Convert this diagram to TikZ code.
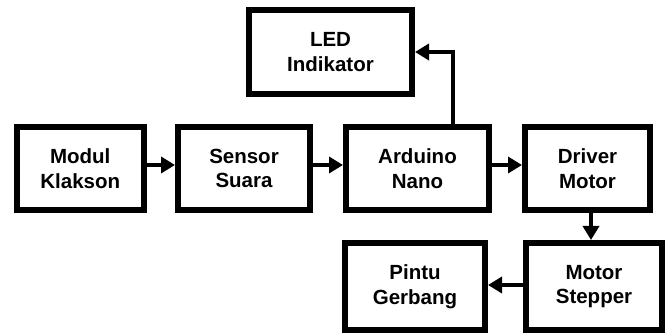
\documentclass[tikz,border=0pt]{standalone}
\usepackage{fontspec}
\setmainfont{Liberation Sans}
\usetikzlibrary{arrows.meta}
\begin{document}
\begin{tikzpicture}[x=1pt,y=-1pt,
  blk/.style={draw,line width=6pt,align=center,inner sep=0pt,
    font=\fontsize{20.5}{24.5}\selectfont\bfseries},
  conn/.style={line width=4pt,-{Triangle[length=14pt,width=16pt]}}]
\useasboundingbox (0,0) rectangle (672,336);
\node[blk,minimum width=127.5pt,minimum height=83pt] (modul) at (80.25,168.5) {Modul\\Klakson};
\node[blk,minimum width=132pt,minimum height=83pt] (sensor) at (244,168.5) {Sensor\\Suara};
\node[blk,minimum width=143pt,minimum height=83pt] (ard) at (417.5,168.5) {Arduino\\Nano};
\node[blk,minimum width=125pt,minimum height=83pt] (drv) at (587.5,168.5) {Driver\\Motor};
\node[blk,minimum width=163pt,minimum height=84pt] (led) at (330.5,52) {LED\\Indikator};
\node[blk,minimum width=136pt,minimum height=87pt] (mot) at (594,286.5) {Motor\\Stepper};
\node[blk,minimum width=140pt,minimum height=87pt] (pin) at (415,286.5) {Pintu\\Gerbang};
\draw[conn] ([yshift=3.5pt]modul.east) -- ([yshift=3.5pt]modul.east -| sensor.west);
\draw[conn] ([yshift=3.5pt]sensor.east) -- ([yshift=3.5pt]sensor.east -| ard.west);
\draw[conn] ([yshift=3.5pt]ard.east) -- ([yshift=3.5pt]ard.east -| drv.west);
\draw[conn] ([xshift=35.5pt]ard.north) |- (led.east);
\draw[conn] ([xshift=3.5pt]drv.south) -- ([xshift=3.5pt]drv.south |- mot.north);
\draw[conn] ([yshift=1.5pt]mot.west) -- ([yshift=1.5pt]mot.west -| pin.east);
\end{tikzpicture}
\end{document}
